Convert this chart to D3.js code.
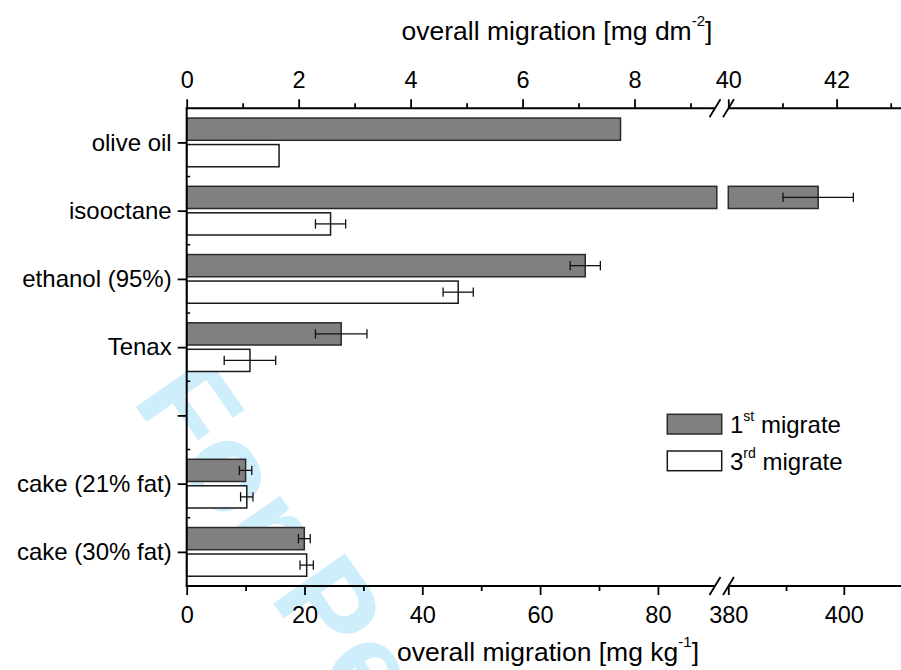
<!DOCTYPE html>
<html>
<head>
<meta charset="utf-8">
<script src="https://cdn.jsdelivr.net/npm/d3@7"></script>
<style>
  html, body { margin: 0; padding: 0; background: #fff; }
  svg { display: block; font-family: "Liberation Sans", Arial, Helvetica, sans-serif; }
</style>
</head>
<body>
<svg id="chart" width="901" height="670"></svg>
<script>
// ---------------- data ----------------
const categories = ["olive oil", "isooctane", "ethanol (95%)", "Tenax", "", "cake (21% fat)", "cake (30% fat)"];
// which x axis each category is read against (top: mg dm-2, bottom: mg kg-1)
const axisOf = ["top", "top", "top", "top", null, "bottom", "bottom"];
const firstMigrate = [7.75, 41.66, 7.12, 2.76, null, 10.0, 19.97];
const firstErr     = [0, 0.65, 0.27, 0.46, null, 1.05, 1.0];
const thirdMigrate = [1.65, 2.57, 4.85, 1.13, null, 10.2, 20.37];
const thirdErr     = [0, 0.27, 0.27, 0.46, null, 1.05, 1.13];
const seriesNames = ["1st migrate", "3rd migrate"];

const topMajorLeft = [0, 2, 4, 6, 8];
const topMinorLeft = [1, 3, 5, 7, 9];
const topMajorRight = [40, 42];
const topMinorRight = [41, 43];
const botMajorLeft = [0, 20, 40, 60, 80];
const botMinorLeft = [10, 30, 50, 70];
const botMajorRight = [380, 400];
const botMinorRight = [390];

// ---------------- layout ----------------
const svg = d3.select("#chart");
const X0 = 186.7, XB1 = 716.8, XB2 = 728.3, X1 = 901;
const Y0 = 108.3, Y1 = 586;

// watermark (behind everything)
svg.append("text")
  .attr("transform", "translate(131,400) rotate(55)")
  .attr("font-size", 127).attr("font-weight", "bold")
  .attr("fill", "#cfeefb")
  .text("For Peer Review");

const topL = d3.scaleLinear().domain([0, 9.47]).range([X0, XB1]);
const topR = d3.scaleLinear().domain([40, 43.19]).range([XB2, X1]);
const botL = d3.scaleLinear().domain([0, 90]).range([X0, XB1]);
const botR = d3.scaleLinear().domain([380, 409.9]).range([XB2, X1]);
const scales = { top: [topL, topR], bottom: [botL, botR] };
function xpos(which, v) {
  const [L, R] = scales[which];
  return v <= L.domain()[1] ? L(v) : R(v);
}

const y = d3.scaleBand().domain(d3.range(categories.length)).range([Y0, Y1]).padding(0);
const ySub = d3.scaleBand().domain([0, 1]).range([0, y.bandwidth()]).paddingInner(0.162).paddingOuter(0.369);

const fills = ["#808080", "#ffffff"];
const strokes = ["#2a2a2a", "#1a1a1a"];

// bars
const rows = [];
categories.forEach((c, i) => {
  if (!axisOf[i]) return;
  [firstMigrate, thirdMigrate].forEach((arr, s) => {
    rows.push({ i, s, v: arr[i], e: (s === 0 ? firstErr : thirdErr)[i], ax: axisOf[i] });
  });
});

const gBars = svg.append("g");
rows.forEach(r => {
  const [L, R] = scales[r.ax];
  const yy = y(r.i) + ySub(r.s);
  const h = ySub.bandwidth();
  const segs = [];
  if (r.v <= L.domain()[1]) segs.push([L(0), L(r.v)]);
  else { segs.push([L(0), L(L.domain()[1])]); segs.push([R(R.domain()[0]), R(r.v)]); }
  segs.forEach(([a, b]) => {
    gBars.append("rect")
      .attr("x", a).attr("y", yy).attr("width", b - a).attr("height", h)
      .attr("fill", fills[r.s]).attr("stroke", strokes[r.s]).attr("stroke-width", 1.5);
  });
  if (r.e > 0) {
    const cy = yy + h / 2;
    const xa = xpos(r.ax, r.v - r.e), xb = xpos(r.ax, r.v + r.e);
    const g = gBars.append("g").attr("stroke", "#111").attr("stroke-width", 1.3);
    g.append("line").attr("x1", xa).attr("x2", xb).attr("y1", cy).attr("y2", cy);
    g.append("line").attr("x1", xa).attr("x2", xa).attr("y1", cy - 4.7).attr("y2", cy + 4.7);
    g.append("line").attr("x1", xb).attr("x2", xb).attr("y1", cy - 4.7).attr("y2", cy + 4.7);
  }
});

// ---------------- axes ----------------
function styleAxis(g, fs) {
  g.select(".domain").remove();
  g.selectAll(".tick line").attr("stroke", "#000").attr("stroke-width", 1.8);
  g.selectAll(".tick text").attr("fill", "#000").attr("font-size", fs)
    .attr("font-family", '"Liberation Sans", Arial, sans-serif');
}
// top
[[topL, topMajorLeft, topMinorLeft], [topR, topMajorRight, topMinorRight]].forEach(([sc, maj, min]) => {
  svg.append("g").attr("transform", `translate(0,${Y0})`)
    .call(d3.axisTop(sc).tickValues(maj).tickSize(9).tickPadding(11).tickFormat(d3.format("d")))
    .call(g => styleAxis(g, 23.5));
  svg.append("g").attr("transform", `translate(0,${Y0})`)
    .call(d3.axisTop(sc).tickValues(min).tickSize(5).tickFormat(""))
    .call(g => styleAxis(g, 23.5));
});
// bottom
[[botL, botMajorLeft, botMinorLeft], [botR, botMajorRight, botMinorRight]].forEach(([sc, maj, min]) => {
  svg.append("g").attr("transform", `translate(0,${Y1})`)
    .call(d3.axisBottom(sc).tickValues(maj).tickSize(9).tickPadding(11.5).tickFormat(d3.format("d")))
    .call(g => styleAxis(g, 23.5));
  svg.append("g").attr("transform", `translate(0,${Y1})`)
    .call(d3.axisBottom(sc).tickValues(min).tickSize(5).tickFormat(""))
    .call(g => styleAxis(g, 23.5));
});
// left
const yAxisScale = d3.scalePoint().domain(d3.range(categories.length)).range([Y0 + y.bandwidth() / 2, Y1 - y.bandwidth() / 2]);
svg.append("g").attr("transform", `translate(${X0},0)`)
  .call(d3.axisLeft(yAxisScale).tickSize(9).tickPadding(6).tickFormat(i => categories[i]))
  .call(g => styleAxis(g, 24));
// minor inward ticks at band boundaries
const bounds = d3.range(1, categories.length).map(i => y(i));
svg.append("g").selectAll("line").data(bounds).join("line")
  .attr("x1", X0).attr("x2", X0 + 3.5).attr("y1", d => d).attr("y2", d => d)
  .attr("stroke", "#000").attr("stroke-width", 1.5);

// axis lines
const axLine = svg.append("g").attr("stroke", "#000").attr("stroke-width", 2).attr("fill", "none");
axLine.append("line").attr("x1", X0).attr("x2", X0).attr("y1", Y0).attr("y2", Y1);
[Y0, Y1].forEach(yy => {
  axLine.append("line").attr("x1", X0 - 1).attr("x2", 715).attr("y1", yy).attr("y2", yy);
  axLine.append("line").attr("x1", 728.5).attr("x2", X1).attr("y1", yy).attr("y2", yy);
  // break marks
  [715, 728.5].forEach(cx => {
    axLine.append("line").attr("x1", cx - 5.5).attr("y1", yy + 9).attr("x2", cx + 5.5).attr("y2", yy - 9)
      .attr("stroke-width", 1.8);
  });
});

// axis titles
const topTitle = svg.append("text").attr("x", 557).attr("y", 40).attr("text-anchor", "middle").attr("font-size", 26.5).attr("fill", "#000");
topTitle.append("tspan").text("overall migration [mg dm");
topTitle.append("tspan").attr("font-size", 15).attr("dy", -14).text("-2");
topTitle.append("tspan").attr("dy", 14).text("]");

const botTitle = svg.append("text").attr("x", 548).attr("y", 661).attr("text-anchor", "middle").attr("font-size", 26.5).attr("fill", "#000");
botTitle.append("tspan").text("overall migration [mg kg");
botTitle.append("tspan").attr("font-size", 15).attr("dy", -14).text("-1");
botTitle.append("tspan").attr("dy", 14).text("]");

// legend
const legendSup = ["st", "rd"];
const legendNum = ["1", "3"];
const lg = svg.append("g");
seriesNames.forEach((name, s) => {
  const yy = 414.3 + s * 36.7;
  lg.append("rect").attr("x", 667.3).attr("y", yy).attr("width", 54.4).attr("height", 19.7)
    .attr("fill", fills[s]).attr("stroke", strokes[s]).attr("stroke-width", 1.5);
  const t = lg.append("text").attr("x", 730).attr("y", yy + 19).attr("font-size", 24).attr("fill", "#000");
  t.append("tspan").text(legendNum[s]);
  t.append("tspan").attr("font-size", 14).attr("dy", -12).text(legendSup[s]);
  t.append("tspan").attr("dy", 12).text(" " + name.split(" ")[1]);
});
</script>
</body>
</html>
